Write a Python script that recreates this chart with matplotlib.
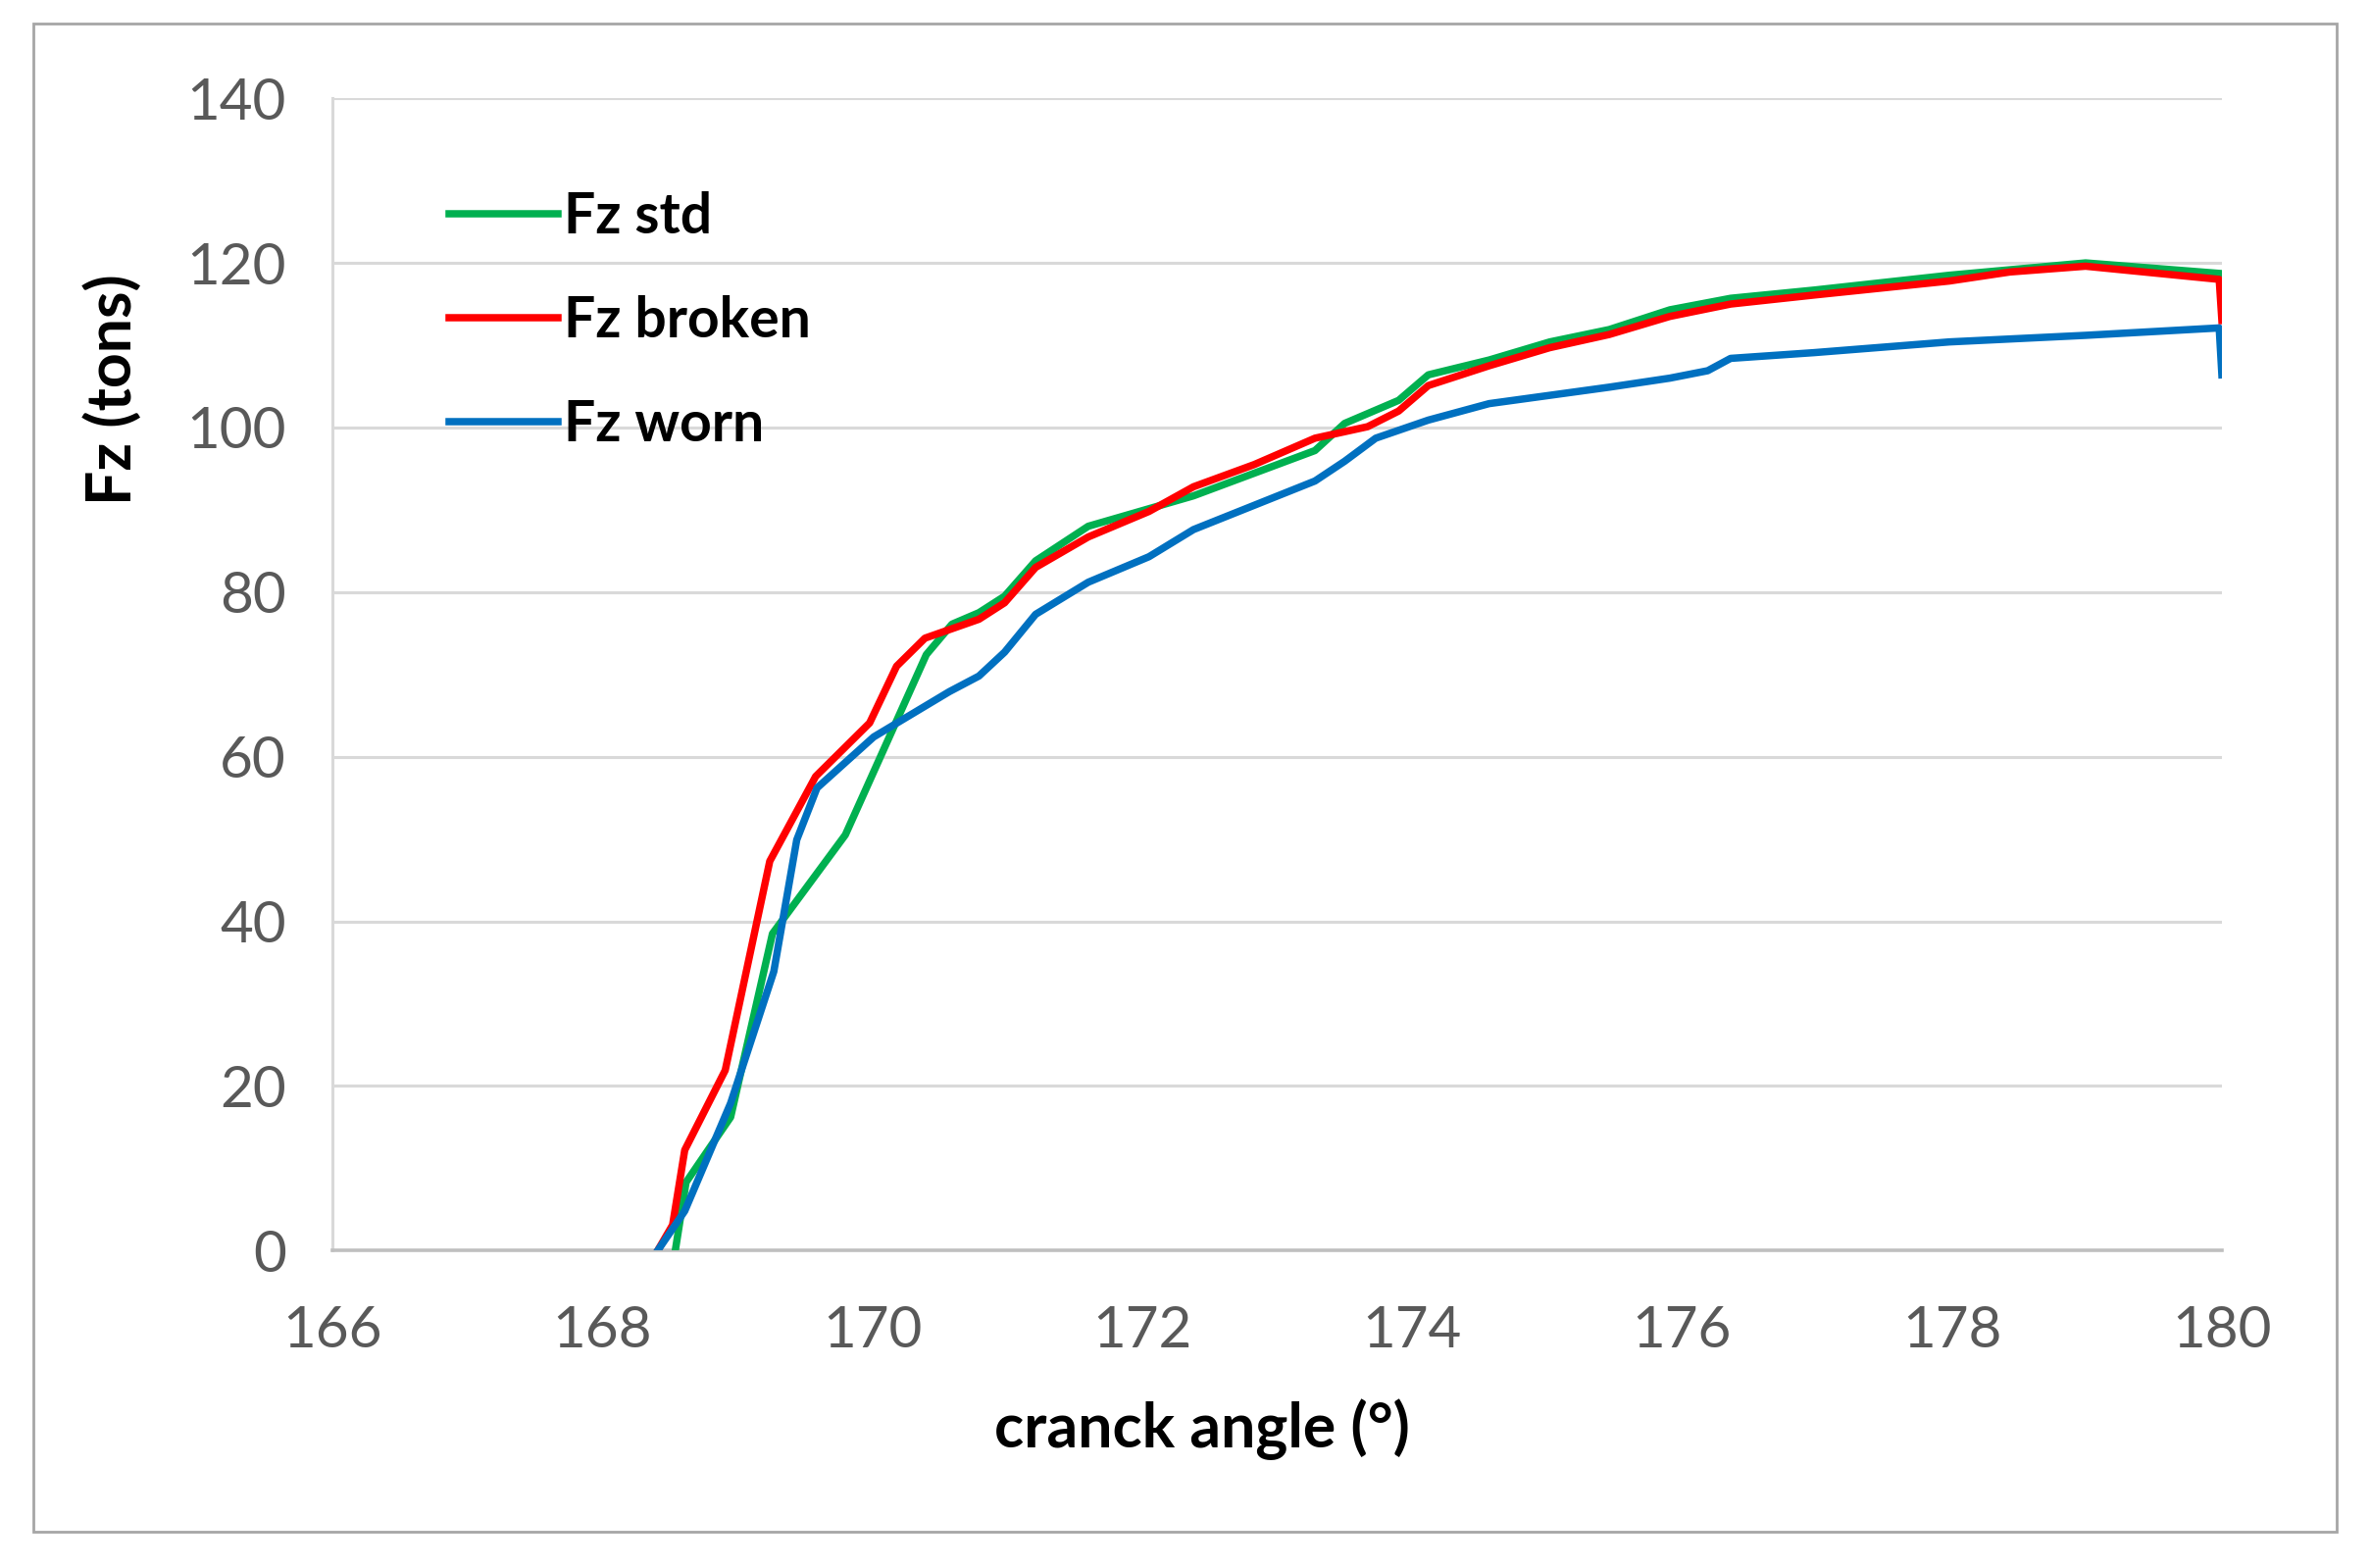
import matplotlib
matplotlib.use("Agg")
from matplotlib import pyplot as plt
from matplotlib.patches import Rectangle

plt.rcParams["font.family"] = ["Lato", "DejaVu Sans"]

# crank angle (deg) and Fz (tons)
angle_std = [168.54, 168.62, 168.95, 169.26, 169.80, 170.40, 170.59, 170.79, 170.98,
             171.21, 171.6, 172.38, 173.28, 173.5, 173.9, 174.12, 174.57, 175.02,
             175.46, 175.91, 176.36, 176.98, 177.98, 178.99, 180.0]
fz_std = [0, 8.3, 16.2, 38.5, 50.5, 72.4, 76.1, 77.5, 79.5,
          83.8, 88.0, 91.7, 97.2, 100.5, 103.3, 106.4, 108.2, 110.4,
          111.9, 114.3, 115.7, 116.7, 118.5, 120.0, 118.7]

angle_broken = [168.41, 168.52, 168.61, 168.91, 169.24, 169.58, 169.98, 170.18, 170.39,
                170.79, 170.98, 171.21, 171.6, 172.05, 172.38, 172.83, 173.28, 173.67,
                173.9, 174.12, 174.57, 175.02, 175.46, 175.91, 176.36, 176.98, 177.98,
                178.43, 178.99, 179.98, 180.0]
fz_broken = [0, 3.1, 12.2, 21.9, 47.3, 57.6, 64.1, 71.0, 74.4,
             76.7, 78.7, 83.0, 86.7, 89.8, 92.8, 95.5, 98.7, 100.1,
             102.0, 105.1, 107.5, 109.7, 111.3, 113.5, 115.0, 116.1, 117.8,
             118.9, 119.6, 118.0, 113.0]

angle_worn = [168.41, 168.61, 168.95, 169.27, 169.44, 169.59, 170.01, 170.57, 170.79,
              170.98, 171.21, 171.6, 172.05, 172.38, 173.28, 173.5, 173.73, 174.12,
              174.57, 175.46, 175.91, 176.19, 176.36, 176.98, 177.98, 178.99, 179.98,
              180.0]
fz_worn = [0, 4.8, 17.9, 33.9, 49.9, 56.2, 62.4, 67.9, 69.8,
           72.7, 77.3, 81.2, 84.3, 87.6, 93.5, 95.9, 98.7, 100.9,
           102.9, 104.9, 106.0, 106.9, 108.4, 109.1, 110.4, 111.2, 112.1,
           106.4]

x_ticks = [166, 168, 170, 172, 174, 176, 178, 180]
y_ticks = [0, 20, 40, 60, 80, 100, 120, 140]

fig = plt.figure(figsize=(12.085, 7.995), dpi=200)
ax = fig.add_axes([0.1403, 0.2025, 0.7972, 0.7348])

ax.plot(angle_std, fz_std, color="#00B050", lw=2.7, label="Fz std", zorder=3)
ax.plot(angle_broken, fz_broken, color="#FF0000", lw=2.7, label="Fz broken", zorder=4)
ax.plot(angle_worn, fz_worn, color="#0070C0", lw=2.7, label="Fz worn", zorder=5)

ax.set_xlim(166, 180)
ax.set_ylim(0, 140)
ax.set_xticks(x_ticks)
ax.set_yticks(y_ticks)
ax.tick_params(length=0, labelsize=21, labelcolor="#595959")
ax.tick_params(axis="x", pad=20)
ax.tick_params(axis="y", pad=17)
ax.yaxis.grid(True, color="#d9d9d9", lw=1.1)
ax.set_axisbelow(True)
for side in ["top", "right"]:
    ax.spines[side].set_visible(False)
ax.spines["left"].set_color("#d9d9d9")
ax.spines["left"].set_linewidth(1.1)
ax.spines["bottom"].set_color("#bfbfbf")
ax.spines["bottom"].set_linewidth(1.3)

ax.set_xlabel("cranck angle (°)", fontsize=22.5, fontweight="bold", va="center")
ax.xaxis.set_label_coords(0.46, -0.155)
ax.set_ylabel("Fz (tons)", fontsize=22.5, fontweight="bold", va="center")
ax.yaxis.set_label_coords(-0.116, 0.747)

ax.legend(
    loc="upper left",
    bbox_to_anchor=(0.035, 0.963),
    frameon=False,
    prop={"weight": "bold", "size": 20.5},
    handlelength=1.95,
    handletextpad=0.1,
    labelspacing=0.93,
)

fig.patches.append(Rectangle((0.014, 0.023), 0.972, 0.962, transform=fig.transFigure,
                             fill=False, edgecolor="#a6a6a6", lw=1.0))

fig.savefig("out.png", dpi=200)
